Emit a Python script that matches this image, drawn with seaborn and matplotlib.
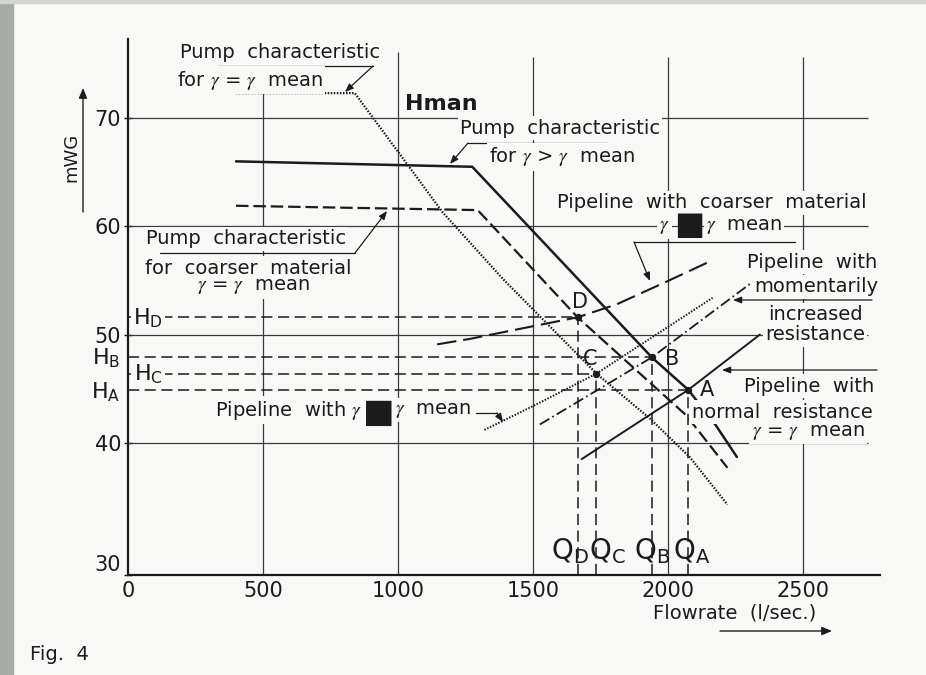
import matplotlib
matplotlib.use("Agg")
import matplotlib.pyplot as plt
from matplotlib.lines import Line2D
from matplotlib.patches import Rectangle, FancyArrowPatch
import seaborn as sns

# ==============================
# Data (flow in l/sec, head in mWG)
# ==============================
# pump characteristic for gamma = gamma mean (dotted)
pump_mean_q = [400, 840, 1035, 1165, 1390, 1735, 1935, 2080, 2220]
pump_mean_h = [72.3, 72.3, 65.7, 61.3, 55.1, 46.4, 42.2, 38.7, 34.3]

# pump characteristic for gamma > gamma mean (solid)
pump_high_q = [400, 1275, 1940, 2075, 2175, 2255]
pump_high_h = [66.0, 65.5, 47.9, 44.9, 41.7, 38.7]

# pump characteristic for coarser material (dashed)
pump_coarse_q = [400, 1295, 1665, 2065, 2110, 2220]
pump_coarse_h = [61.9, 61.5, 51.6, 42.6, 41.2, 37.7]

# pipeline curves
pipe_normal_q = [1680, 2075, 2340]
pipe_normal_h = [38.5, 44.9, 50.0]
pipe_incr_q = [1525, 1740, 1940, 2315]
pipe_incr_h = [41.7, 44.9, 47.9, 54.9]
pipe_light_q = [1320, 1500, 1735, 2165]
pipe_light_h = [41.2, 43.4, 46.4, 53.4]
pipe_coarse_q = [1145, 1265, 1665, 1810, 1995, 2150]
pipe_coarse_h = [49.1, 49.6, 51.6, 52.8, 54.9, 56.7]

# operating points
point_names = ["A", "B", "C", "D"]
point_q = [2075, 1940, 1735, 1665]
point_h = [44.9, 47.9, 46.4, 51.6]

x_ticks = [0, 500, 1000, 1500, 2000, 2500]
y_ticks = [30, 40, 50, 60, 70]

# ==============================
# Style
# ==============================
W_PX, H_PX = 926, 675
X_MAX = 2785
Y_MIN, Y_MAX = 27.8, 77.3   # the original draws the axis a bit below the 30 line
GRID_TOPS = [72.3, 76.1, 75.6, 75.6, 75.6]   # where the vertical rules stop
BG = "#f8f8f6"
INK = "#1b1b1b"
GRID = "#3a3a3a"

sns.set_theme(style="white")
plt.rcParams["font.family"] = ["DejaVu Sans"]
plt.rcParams["mathtext.fontset"] = "stix"
plt.rcParams["lines.scale_dashes"] = False

fig = plt.figure(figsize=(W_PX / 100, H_PX / 100), dpi=100, facecolor=BG)
ax = fig.add_axes([128 / W_PX, 100 / H_PX, 752 / W_PX, 536 / H_PX])
ax.set_facecolor(BG)

# grey strip on the left edge of the scan
fig.patches.append(Rectangle((0, 0), 13 / W_PX, 1, transform=fig.transFigure,
                             color="#a6ada4", zorder=0))
fig.patches.append(Rectangle((0, 1 - 3 / H_PX), 1, 3 / H_PX, transform=fig.transFigure,
                             color="#d3d5d1", zorder=0))


def at(x, y):
    # pixel position on the reference picture -> figure fraction
    return x / W_PX, 1 - y / H_PX


def label(x, y, s, size=14, ha="center", box=True, **kw):
    fig.text(*at(x, y), s, ha=ha, va="center", fontsize=size, color=INK,
             bbox=dict(boxstyle="square,pad=0.12", fc=BG, ec="none") if box else None,
             **kw)


def leader(points):
    pts = [at(x, y) for x, y in points]
    if len(pts) > 2:
        xs, ys = zip(*pts[:-1])
        fig.add_artist(Line2D(xs, ys, transform=fig.transFigure, color=INK, lw=0.9))
    fig.add_artist(FancyArrowPatch(pts[-2], pts[-1], transform=fig.transFigure,
                                   arrowstyle="-|>,head_length=5,head_width=2",
                                   color=INK, lw=0.9, shrinkA=0, shrinkB=0))


def curve(q, h, style, lw):
    sns.lineplot(x=q, y=h, ax=ax, color=INK, linewidth=lw, linestyle=style,
                 sort=False, estimator=None, legend=False, zorder=3)


# ==============================
# Grid and axes
# ==============================
ax.set_xlim(0, X_MAX)
ax.set_ylim(Y_MIN, Y_MAX)
ax.hlines(y_ticks[1:], 0, 2740, color=GRID, lw=0.9, zorder=1)
ax.vlines(x_ticks[1:], Y_MIN, GRID_TOPS, color=GRID, lw=0.9, zorder=1)

for side in ["top", "right"]:
    ax.spines[side].set_visible(False)
for side in ["left", "bottom"]:
    ax.spines[side].set_color(INK)
    ax.spines[side].set_linewidth(1.6)

ax.set_xticks(x_ticks, [str(v) for v in x_ticks])
ax.set_yticks([Y_MIN] + y_ticks[1:], [str(v) for v in y_ticks])
ax.tick_params(axis="x", length=0, pad=4, labelsize=15, labelcolor=INK)
ax.tick_params(axis="y", direction="inout", length=6, width=1, pad=2,
               labelsize=15, labelcolor=INK, color=INK, left=True)
ax.get_yticklabels()[0].set_va("bottom")

# ==============================
# Curves
# ==============================
curve(pump_mean_q, pump_mean_h, (0, (1.1, 1.1)), 1.6)
curve(pump_high_q, pump_high_h, "-", 1.8)
curve(pump_coarse_q, pump_coarse_h, (0, (9, 3.5)), 1.6)

curve(pipe_normal_q, pipe_normal_h, "-", 1.4)
curve(pipe_incr_q, pipe_incr_h, (0, (8, 2.5, 1.2, 2.5)), 1.3)
curve(pipe_light_q, pipe_light_h, (0, (1.1, 1.1)), 1.4)
curve(pipe_coarse_q, pipe_coarse_h, (0, (14, 5)), 1.5)

# head and flow read-off lines
for name, q, h in zip(point_names, point_q, point_h):
    ax.hlines(h, 0, q, color=INK, lw=1.1, linestyles=[(0, (8, 4))], zorder=2)
    ax.vlines(q, Y_MIN, h, color=INK, lw=1.1, linestyles=[(0, (8, 4))], zorder=2)

sns.scatterplot(x=point_q, y=point_h, ax=ax, color=INK, s=28, linewidth=0, zorder=5)

point_offsets = {"A": (19, 0), "B": (20, -2), "C": (-6, 15), "D": (2, 15)}
for name, q, h in zip(point_names, point_q, point_h):
    ax.annotate(name, (q, h), xytext=point_offsets[name], textcoords="offset pixels",
                ha="center", va="center", fontsize=15, color=INK, zorder=6)

h_offsets = {"A": (-22, -2), "B": (-22, -1), "C": (20, -1), "D": (20, -1)}
for name, h in zip(point_names, point_h):
    right = h_offsets[name][0] > 0
    ax.annotate(f"$\\mathregular{{H_{name}}}$", (0, h), xytext=h_offsets[name],
                textcoords="offset pixels", ha="center", va="center", fontsize=16,
                color=INK, annotation_clip=False, zorder=6,
                bbox=dict(boxstyle="square,pad=0.1", fc=BG, ec="none") if right else None)

q_offsets = {"A": 3, "B": 0, "C": 11, "D": -8}
for name, q in zip(point_names, point_q):
    ax.annotate(f"$\\mathregular{{Q_{name}}}$", (q, 30), xytext=(q_offsets[name], 0),
                textcoords="offset pixels", ha="center", va="center", fontsize=20,
                color=INK, zorder=6)

# ==============================
# Labels
# ==============================
label(280, 52, "Pump  characteristic")
label(250, 80, "for $\\gamma$ = $\\gamma$  mean")
leader([(218, 66), (373, 66), (345, 92)])

label(441, 104, "Hman", size=16, fontweight="bold")

label(560, 128, "Pump  characteristic")
label(562, 157, "for $\\gamma$ > $\\gamma$  mean")
leader([(607, 143), (468, 143), (450, 164)])

label(246, 239, "Pump  characteristic")
label(248, 268, "for  coarser  material")
label(253, 287, "$\\gamma$ = $\\gamma$  mean")
leader([(160, 253), (355, 253), (387, 211)])

label(712, 203, "Pipeline  with  coarser  material")
label(670, 227, "$\\gamma$", ha="right")
label(689, 226, "\u25a0", size=23, box=False)
label(706, 227, "$\\gamma$  mean", ha="left")
leader([(795, 242), (634, 242), (650, 281)])

label(812, 262, "Pipeline  with")
label(816, 287, "momentarily")
leader([(872, 300), (733, 300)])
label(815, 315, "increased")
label(815, 335, "resistance")

label(809, 386, "Pipeline  with")
label(782, 412, "normal  resistance")
label(808, 432, "$\\gamma$ = $\\gamma$  mean")
leader([(877, 370), (722, 370)])

label(362, 410, "Pipeline  with $\\gamma$", ha="right")
label(379, 412, "\u25a0", size=24, box=False)
label(395, 410, "$\\gamma$  mean", ha="left")
leader([(476, 413), (497, 413), (503, 422)])

# axis titles with their arrows
fig.text(*at(735, 613), "Flowrate  (l/sec.)", ha="center", va="center",
         fontsize=14, color=INK)
fig.add_artist(FancyArrowPatch(at(720, 631), at(832, 631), transform=fig.transFigure,
                               arrowstyle="-|>,head_length=6,head_width=2.5",
                               color=INK, lw=1.0, shrinkA=0, shrinkB=0))
fig.text(*at(71, 157), "mWG", ha="center", va="center", rotation=90,
         fontsize=13, color=INK)
fig.add_artist(FancyArrowPatch(at(83, 212), at(83, 88), transform=fig.transFigure,
                               arrowstyle="-|>,head_length=6,head_width=2.5",
                               color=INK, lw=1.0, shrinkA=0, shrinkB=0))

fig.text(*at(30, 655), "Fig.  4", ha="left", va="center", fontsize=14, color=INK)

fig.savefig("out.png", dpi=100, facecolor=BG)
